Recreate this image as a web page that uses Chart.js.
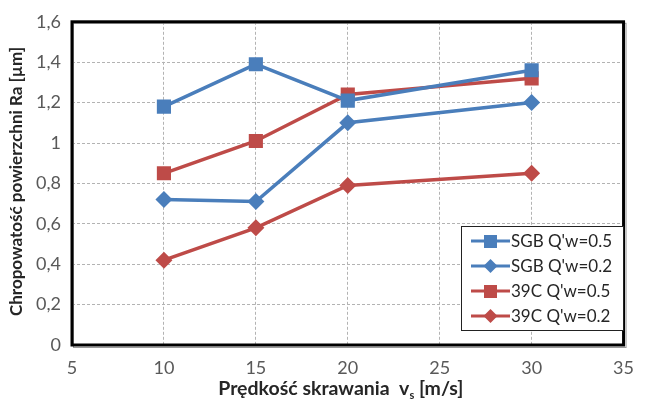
<!DOCTYPE html>
<html>
<head>
<meta charset="utf-8">
<script src="https://cdn.jsdelivr.net/npm/chart.js@4"></script>
<style>
  html, body { margin: 0; padding: 0; background: #fff; }
  #wrap { width: 646px; height: 405px; }
</style>
</head>
<body>
<div id="wrap"><canvas id="chart" width="646" height="405"></canvas></div>
<script>
// dane
const speeds = [10, 15, 20, 30];
const sgb05 = [1.18, 1.39, 1.21, 1.36];
const sgb02 = [0.72, 0.71, 1.10, 1.20];
const c39_05 = [0.85, 1.01, 1.24, 1.32];
const c39_02 = [0.42, 0.58, 0.79, 0.85];
const seriesNames = ["SGB Q'w=0.5", "SGB Q'w=0.2", "39C Q'w=0.5", "39C Q'w=0.2"];

const BLUE = '#4a7ebb';
const RED = '#be4b48';
const FONT = 'Lato, "Open Sans", sans-serif';

function pts(vals) {
    return speeds.map((s, i) => ({ x: s, y: vals[i] }));
}

function fmt(v) {
    return (Math.round(v * 10) / 10).toString().replace('.', ',');
}

// ramka, tytuly osi i legenda rysowane recznie
const decor = {
    id: 'decor',
    afterDraw(chart) {
        const ctx = chart.ctx;
        const a = chart.chartArea;
        ctx.save();
        // cien ramki
        ctx.strokeStyle = '#9a9a9a';
        ctx.lineWidth = 1;
        ctx.strokeRect(a.left + 1.5, a.top + 1.5, a.right - a.left + 1, a.bottom - a.top + 1);
        // ramka
        ctx.strokeStyle = '#000';
        ctx.lineWidth = 3;
        ctx.strokeRect(a.left, a.top, a.right - a.left, a.bottom - a.top);

        // tytul osi Y
        ctx.fillStyle = '#262626';
        ctx.font = 'bold 17px ' + FONT;
        ctx.textAlign = 'center';
        ctx.textBaseline = 'middle';
        ctx.translate(17, (a.top + a.bottom) / 2 - 2);
        ctx.rotate(-Math.PI / 2);
        ctx.fillText('Chropowatość powierzchni Ra [µm]', 0, 0);
        ctx.setTransform(1, 0, 0, 1, 0, 0);

        // tytul osi X z indeksem dolnym
        const p1 = 'Prędkość skrawania  v';
        const sub = 's';
        const p2 = ' [m/s]';
        ctx.font = 'bold 19.5px ' + FONT;
        const w1 = ctx.measureText(p1).width;
        const w3 = ctx.measureText(p2).width;
        ctx.font = 'bold 11px ' + FONT;
        const w2 = ctx.measureText(sub).width;
        const total = w1 + w2 + w3;
        let x = (a.left + a.right) / 2 - 7 - total / 2;
        const y = 389;
        ctx.textAlign = 'left';
        ctx.textBaseline = 'middle';
        ctx.font = 'bold 19.5px ' + FONT;
        ctx.fillText(p1, x, y);
        ctx.font = 'bold 11px ' + FONT;
        ctx.fillText(sub, x + w1, y + 6);
        ctx.font = 'bold 19.5px ' + FONT;
        ctx.fillText(p2, x + w1 + w2, y);

        // legenda
        const lx = 461, ly = 226, lw = 162, lh = 104;
        ctx.fillStyle = '#fff';
        ctx.fillRect(lx, ly, lw, lh);
        ctx.strokeStyle = '#222';
        ctx.lineWidth = 1;
        ctx.strokeRect(lx + 0.5, ly + 0.5, lw, lh);
        chart.data.datasets.forEach((ds, i) => {
            const ry = ly + 15 + i * 25;
            ctx.strokeStyle = ds.borderColor;
            ctx.lineWidth = 3;
            ctx.beginPath();
            ctx.moveTo(471, ry);
            ctx.lineTo(510, ry);
            ctx.stroke();
            ctx.fillStyle = ds.backgroundColor;
            if (ds.pointStyle === 'rect') {
                ctx.fillRect(484, ry - 6, 13, 13);
            } else {
                ctx.beginPath();
                ctx.moveTo(490.5, ry - 7);
                ctx.lineTo(497.5, ry);
                ctx.lineTo(490.5, ry + 7);
                ctx.lineTo(483.5, ry);
                ctx.closePath();
                ctx.fill();
            }
            ctx.fillStyle = '#262626';
            ctx.font = '17px ' + FONT;
            ctx.textAlign = 'left';
            ctx.textBaseline = 'middle';
            ctx.fillText(seriesNames[i], 511, ry + 1);
        });
        ctx.restore();
    }
};

function makeSet(label, vals, color, style, r) {
    return {
        label: label,
        data: pts(vals),
        borderColor: color,
        backgroundColor: color,
        borderWidth: 3.5,
        pointStyle: style,
        pointRadius: r,
        pointBorderWidth: 0,
        pointHoverRadius: r,
        tension: 0
    };
}

new Chart(document.getElementById('chart'), {
    type: 'line',
    data: {
        datasets: [
            makeSet(seriesNames[0], sgb05, BLUE, 'rect', 10),
            makeSet(seriesNames[1], sgb02, BLUE, 'rectRot', 8.5),
            makeSet(seriesNames[2], c39_05, RED, 'rect', 10),
            makeSet(seriesNames[3], c39_02, RED, 'rectRot', 8.5)
        ]
    },
    options: {
        responsive: false,
        animation: false,
        layout: { padding: { top: 11, right: 11, left: 0, bottom: 0 } },
        plugins: {
            legend: { display: false },
            tooltip: { enabled: false }
        },
        scales: {
            x: {
                type: 'linear',
                min: 5,
                max: 35,
                afterFit: (s) => { s.height = 60; },
                ticks: {
                    stepSize: 5,
                    padding: 12,
                    color: '#595959',
                    font: { family: FONT, size: 18 }
                },
                grid: {
                    color: '#b3b3b3',
                    drawTicks: false
                },
                border: { display: false, dash: [3, 2] }
            },
            y: {
                min: 0,
                max: 1.6,
                afterFit: (s) => { s.width = 72; },
                ticks: {
                    stepSize: 0.2,
                    padding: 11,
                    color: '#595959',
                    font: { family: FONT, size: 18 },
                    callback: (v) => fmt(v)
                },
                grid: {
                    color: '#b3b3b3',
                    drawTicks: false
                },
                border: { display: false, dash: [3, 2] }
            }
        }
    },
    plugins: [decor]
});
</script>
</body>
</html>
